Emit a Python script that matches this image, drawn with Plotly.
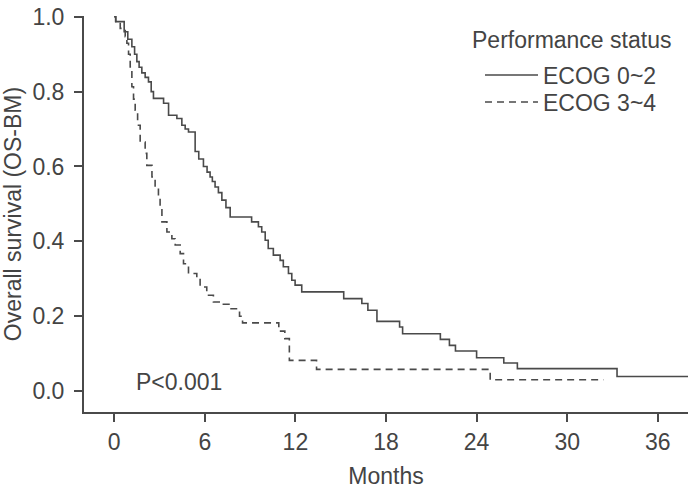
import plotly.graph_objects as go

# ECOG 0~2 (solid) step times (months) and survival after each step
ecog02_t = [0, 0.1, 0.66, 0.9, 1.17, 1.35, 1.5, 1.65, 1.83, 2.05, 2.27, 2.45, 2.6, 3.27, 3.6,
            4.15, 4.48, 4.7, 4.92, 5.36, 5.6, 5.91, 6.15, 6.35, 6.5, 6.68, 6.9, 7.13, 7.4, 7.68,
            9.1, 9.55, 9.77, 10.0, 10.2, 10.54, 10.99, 11.2, 11.54, 11.76, 11.98, 12.42,
            15.2, 16.4, 16.8, 17.4, 18.9, 19.1, 21.6, 22.2, 22.6, 24.0, 25.8, 26.7, 33.3, 38.5]
ecog02_s = [1.0, 0.987, 0.96, 0.94, 0.92, 0.90, 0.88, 0.865, 0.85, 0.838, 0.826, 0.80, 0.782, 0.769, 0.737,
            0.728, 0.71, 0.70, 0.692, 0.64, 0.62, 0.60, 0.585, 0.572, 0.56, 0.545, 0.53, 0.51, 0.49, 0.465,
            0.452, 0.439, 0.425, 0.403, 0.381, 0.363, 0.349, 0.332, 0.314, 0.296, 0.283, 0.265,
            0.247, 0.234, 0.216, 0.186, 0.171, 0.153, 0.138, 0.122, 0.107, 0.089, 0.075, 0.06, 0.039, 0.039]

# ECOG 3~4 (dashed)
ecog34_t = [0, 0.1, 0.4, 0.73, 0.84, 0.95, 1.06, 1.17, 1.28, 1.39, 1.55, 1.72, 2.05, 2.16, 2.5,
            2.71, 2.93, 3.04, 3.16, 3.49, 3.82, 4.04, 4.37, 4.59, 4.92, 5.47, 5.69, 6.13, 6.57,
            7.23, 7.68, 8.3, 8.5, 10.9, 11.3, 11.6, 13.4, 24.9, 32.4]
ecog34_s = [1.0, 0.985, 0.969, 0.947, 0.929, 0.90, 0.866, 0.813, 0.78, 0.75, 0.71, 0.665, 0.635, 0.603, 0.572,
            0.545, 0.514, 0.488, 0.452, 0.425, 0.407, 0.39, 0.367, 0.34, 0.314, 0.30, 0.278, 0.256, 0.238,
            0.232, 0.22, 0.20, 0.182, 0.16, 0.14, 0.082, 0.058, 0.03, 0.03]

x_ticks = [0, 6, 12, 18, 24, 30, 36]
y_ticks = [0.0, 0.2, 0.4, 0.6, 0.8, 1.0]
y_tick_labels = ["0.0", "0.2", "0.4", "0.6", "0.8", "1.0"]

FONT = "Liberation Sans, Arial, sans-serif"
LINE = "#4a4a4a"
TXT = "#444444"
AX = 23

# plot area: left 84, top 16, width 604, height 396
def px_x(px):
    return (px - 84) / 604

def px_y(py):
    return (412 - py) / 396

fig = go.Figure()
fig.add_trace(go.Scatter(x=ecog02_t, y=ecog02_s, mode="lines", name="ECOG 0~2",
                         legend="legend",
                         line=dict(shape="hv", color=LINE, width=1.6)))
fig.add_trace(go.Scatter(x=ecog34_t, y=ecog34_s, mode="lines", name="ECOG 3~4",
                         legend="legend2",
                         line=dict(shape="hv", color=LINE, width=1.6, dash="7px,5px")))

fig.add_annotation(x=1.32, y=0.023, xref="x", yref="y", text="P<0.001", showarrow=False,
                   xanchor="left", yanchor="middle", font=dict(family=FONT, size=AX, color=TXT))
fig.add_annotation(x=px_x(470), y=px_y(40), xref="paper", yref="paper",
                   text="Performance status", showarrow=False, xanchor="left", yanchor="middle",
                   font=dict(family=FONT, size=AX, color=TXT))

leg_common = dict(xanchor="left", yanchor="middle", font=dict(family=FONT, size=AX, color=TXT),
                  itemwidth=53, bgcolor="rgba(0,0,0,0)")

fig.update_layout(
    width=688, height=489,
    margin=dict(l=84, r=0, t=16, b=77),
    plot_bgcolor="white", paper_bgcolor="white",
    font=dict(family=FONT, size=AX, color=TXT),
    showlegend=True,
    legend=dict(x=px_x(480), y=px_y(75), **leg_common),
    legend2=dict(x=px_x(480), y=px_y(102), **leg_common),
    xaxis=dict(range=[-2, 38], tickvals=x_ticks, ticktext=[str(v) for v in x_ticks],
               showline=True, linecolor=LINE, linewidth=2, ticks="outside", ticklen=8,
               tickwidth=2, tickcolor=LINE, showgrid=False, zeroline=False,
               title=dict(text="Months", standoff=16, font=dict(size=AX)),
               tickfont=dict(size=AX)),
    yaxis=dict(range=[-0.056, 1.002], tickvals=y_ticks, ticktext=y_tick_labels,
               showline=True, linecolor=LINE, linewidth=2, ticks="outside", ticklen=8,
               tickwidth=2, tickcolor=LINE, showgrid=False, zeroline=False,
               ticklabelstandoff=5,
               title=dict(text="Overall survival (OS-BM)", standoff=9, font=dict(size=AX)),
               tickfont=dict(size=AX)),
)

fig.write_html("out.html")
